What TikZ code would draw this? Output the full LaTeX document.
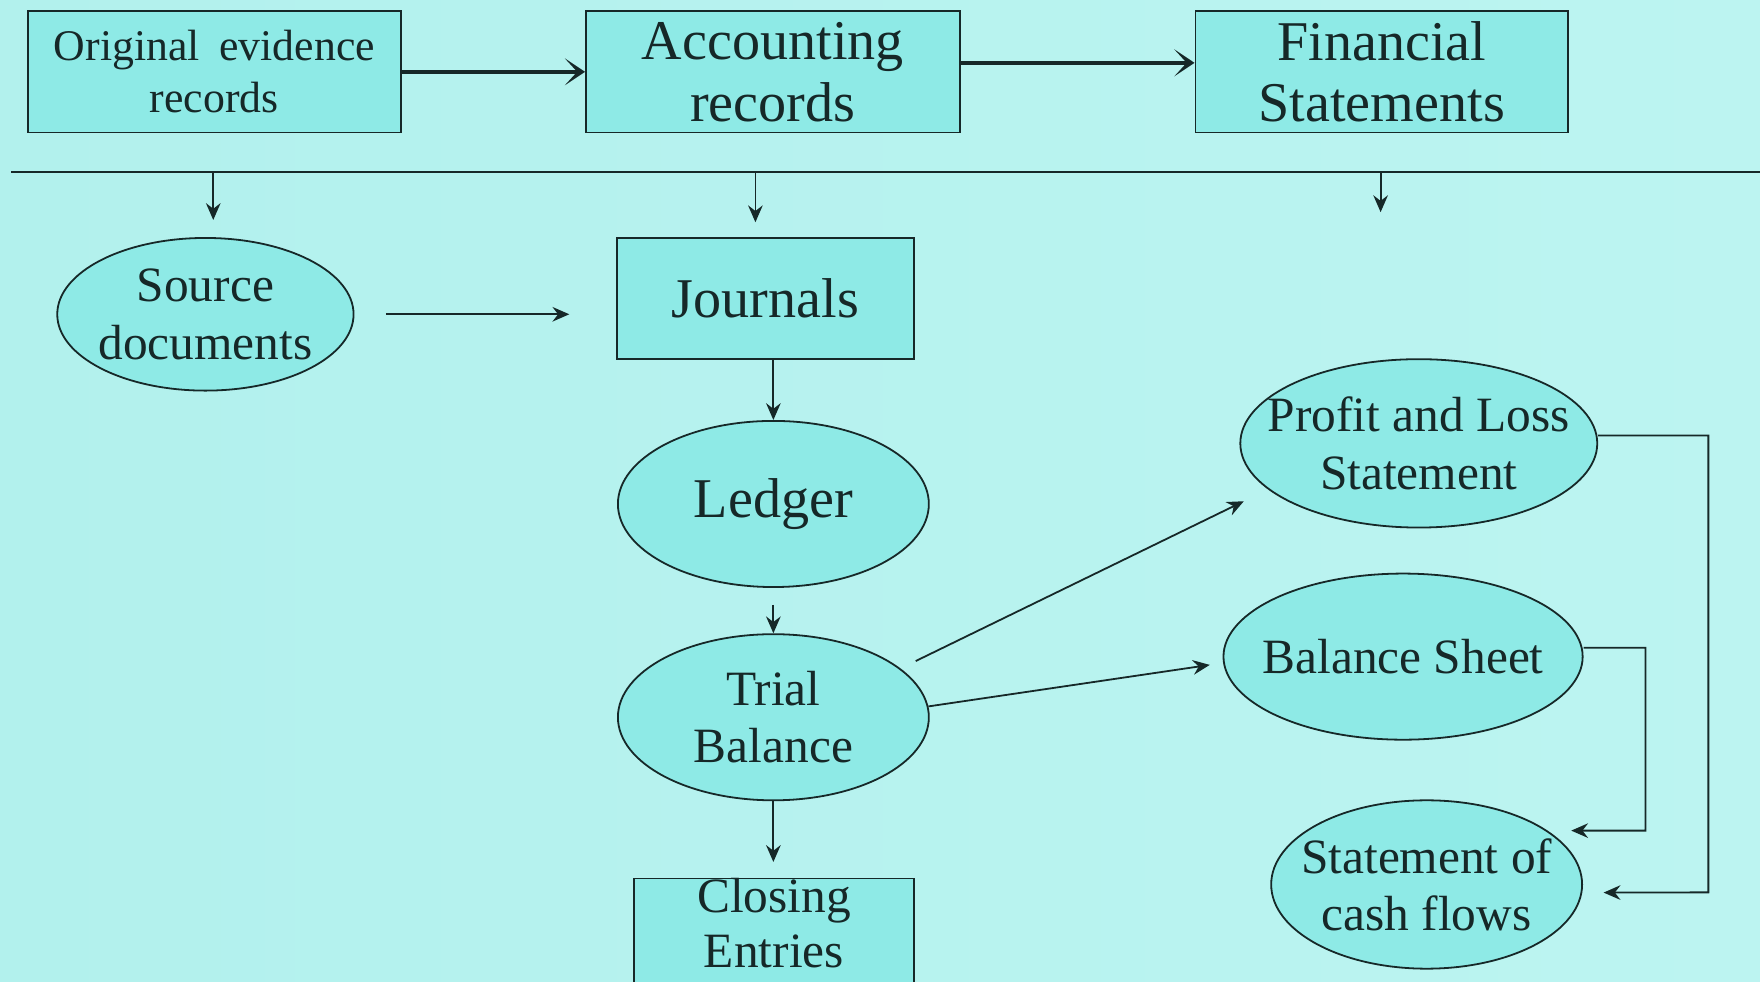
\documentclass[tikz,border=0pt]{standalone}
\usepackage{fontspec}
\setmainfont{Liberation Serif}
\usetikzlibrary{shapes.geometric,arrows.meta}
\definecolor{bgleft}{RGB}{178,241,237}
\definecolor{bgmid}{RGB}{200,247,244}
\definecolor{bgright}{RGB}{188,244,241}
\definecolor{nodefill}{RGB}{142,234,230}
\definecolor{ink}{RGB}{22,40,40}

\begin{document}
\begin{tikzpicture}[x=1pt,y=-1pt,
  box/.style={draw=ink, line width=1.6pt, fill=nodefill, rectangle, inner sep=0pt, align=center, text=ink},
  % negative horizontal padding keeps the ellipse at its given size
  oval/.style={draw=ink, line width=1.6pt, fill=nodefill, ellipse, inner xsep=-70pt, inner ysep=0pt, align=center, text=ink},
  bigtext/.style={font=\fontsize{50}{55}\selectfont},
  midtext/.style={font=\fontsize{44}{51}\selectfont},
  smalltext/.style={font=\fontsize{39}{46}\selectfont},
  arr/.style={draw=ink, line width=1.6pt, -{Stealth[length=15pt,width=13pt,inset=5pt]}},
  heavyarr/.style={draw=ink, line width=4pt, -{Stealth[length=18pt,width=24pt,inset=11pt]}},
  rule/.style={draw=ink, line width=1.6pt},
]
\useasboundingbox (0,0) rectangle (1568,874);
\clip (0,0) rectangle (1568,874);
\shade[left color=bgleft, middle color=bgmid, right color=bgright] (0,0) rectangle (1568,874);

% top row: the three stages
\node[box, smalltext, minimum width=332pt, minimum height=108pt] (orig) at (191,64)
  {Original\hspace{0.45em}evidence\\records};
\node[box, bigtext, minimum width=333pt, minimum height=108pt] (acc) at (688.5,64)
  {Accounting\\records};
\node[box, bigtext, minimum width=332pt, minimum height=108pt] (fin) at (1231,64)
  {Financial\\Statements};

\draw[heavyarr] (orig.east) -- (acc.west);
\draw[heavyarr] ([yshift=8pt]acc.east) -- ([yshift=8pt]fin.west);

% separator and the drops into each column
\coordinate (hl-l) at (10,153);
\coordinate (hl-r) at (1568,153);
\draw[rule] (hl-l) -- (hl-r);
\coordinate (d1) at (190,196);
\coordinate (d2) at (673,198);
\coordinate (d3) at (1230,189);
\draw[arr] (d1 |- hl-l) -- (d1);
\draw[arr] (d2 |- hl-l) -- (d2);
\draw[arr] (d3 |- hl-l) -- (d3);

% lower flow
\node[oval, midtext, minimum width=264pt, minimum height=136pt] (src) at (183,280)
  {Source\\documents};
\node[box, bigtext, minimum width=264pt, minimum height=108pt] (jour) at (682,266)
  {Journals};
\node[oval, bigtext, minimum width=277pt, minimum height=148pt] (led) at (689,449)
  {Ledger};
\node[oval, midtext, minimum width=277pt, minimum height=148pt] (trial) at (689,639)
  {Trial\\Balance};
% the box runs on below the lower edge
\node[box, font=\fontsize{44}{49}\selectfont, minimum width=249pt] (close) at (689.5,845)
  {Closing\\Entries\rule[-45pt]{0pt}{45pt}};

\node[oval, midtext, minimum width=318pt, minimum height=150pt] (pl) at (1264,395)
  {Profit and Loss\\Statement};
\node[oval, midtext, minimum width=320pt, minimum height=148pt] (bs) at (1250,585)
  {Balance Sheet};
\node[oval, midtext, minimum width=277pt, minimum height=150pt] (scf) at (1271,788)
  {Statement of\\cash flows};

\draw[arr, shorten <=28pt, shorten >=42pt] (src.east) -- (src.east -| jour.west);
\draw[arr] (jour.south -| led.north) -- (led.north);
\draw[arr, shorten <=15pt] (led.south) -- (trial.north);
\draw[arr, shorten >=14pt] (trial.south) -- (trial.south |- close.north);

\draw[arr, shorten <=15pt, shorten >=24pt] (trial.21) -- (pl.197);
\draw[arr, shorten >=12pt] (trial.4) -- (bs.182);

\coordinate (rail1) at (1522,795);
\coordinate (rail2) at (1466,740);
\draw[arr, shorten >=19pt] ([yshift=7pt]pl.east) -| (rail1) -- (scf.-3);
\draw[arr, shorten >=21pt] ([yshift=8pt]bs.east) -| (rail2) -- (scf.24);
\end{tikzpicture}
\end{document}
